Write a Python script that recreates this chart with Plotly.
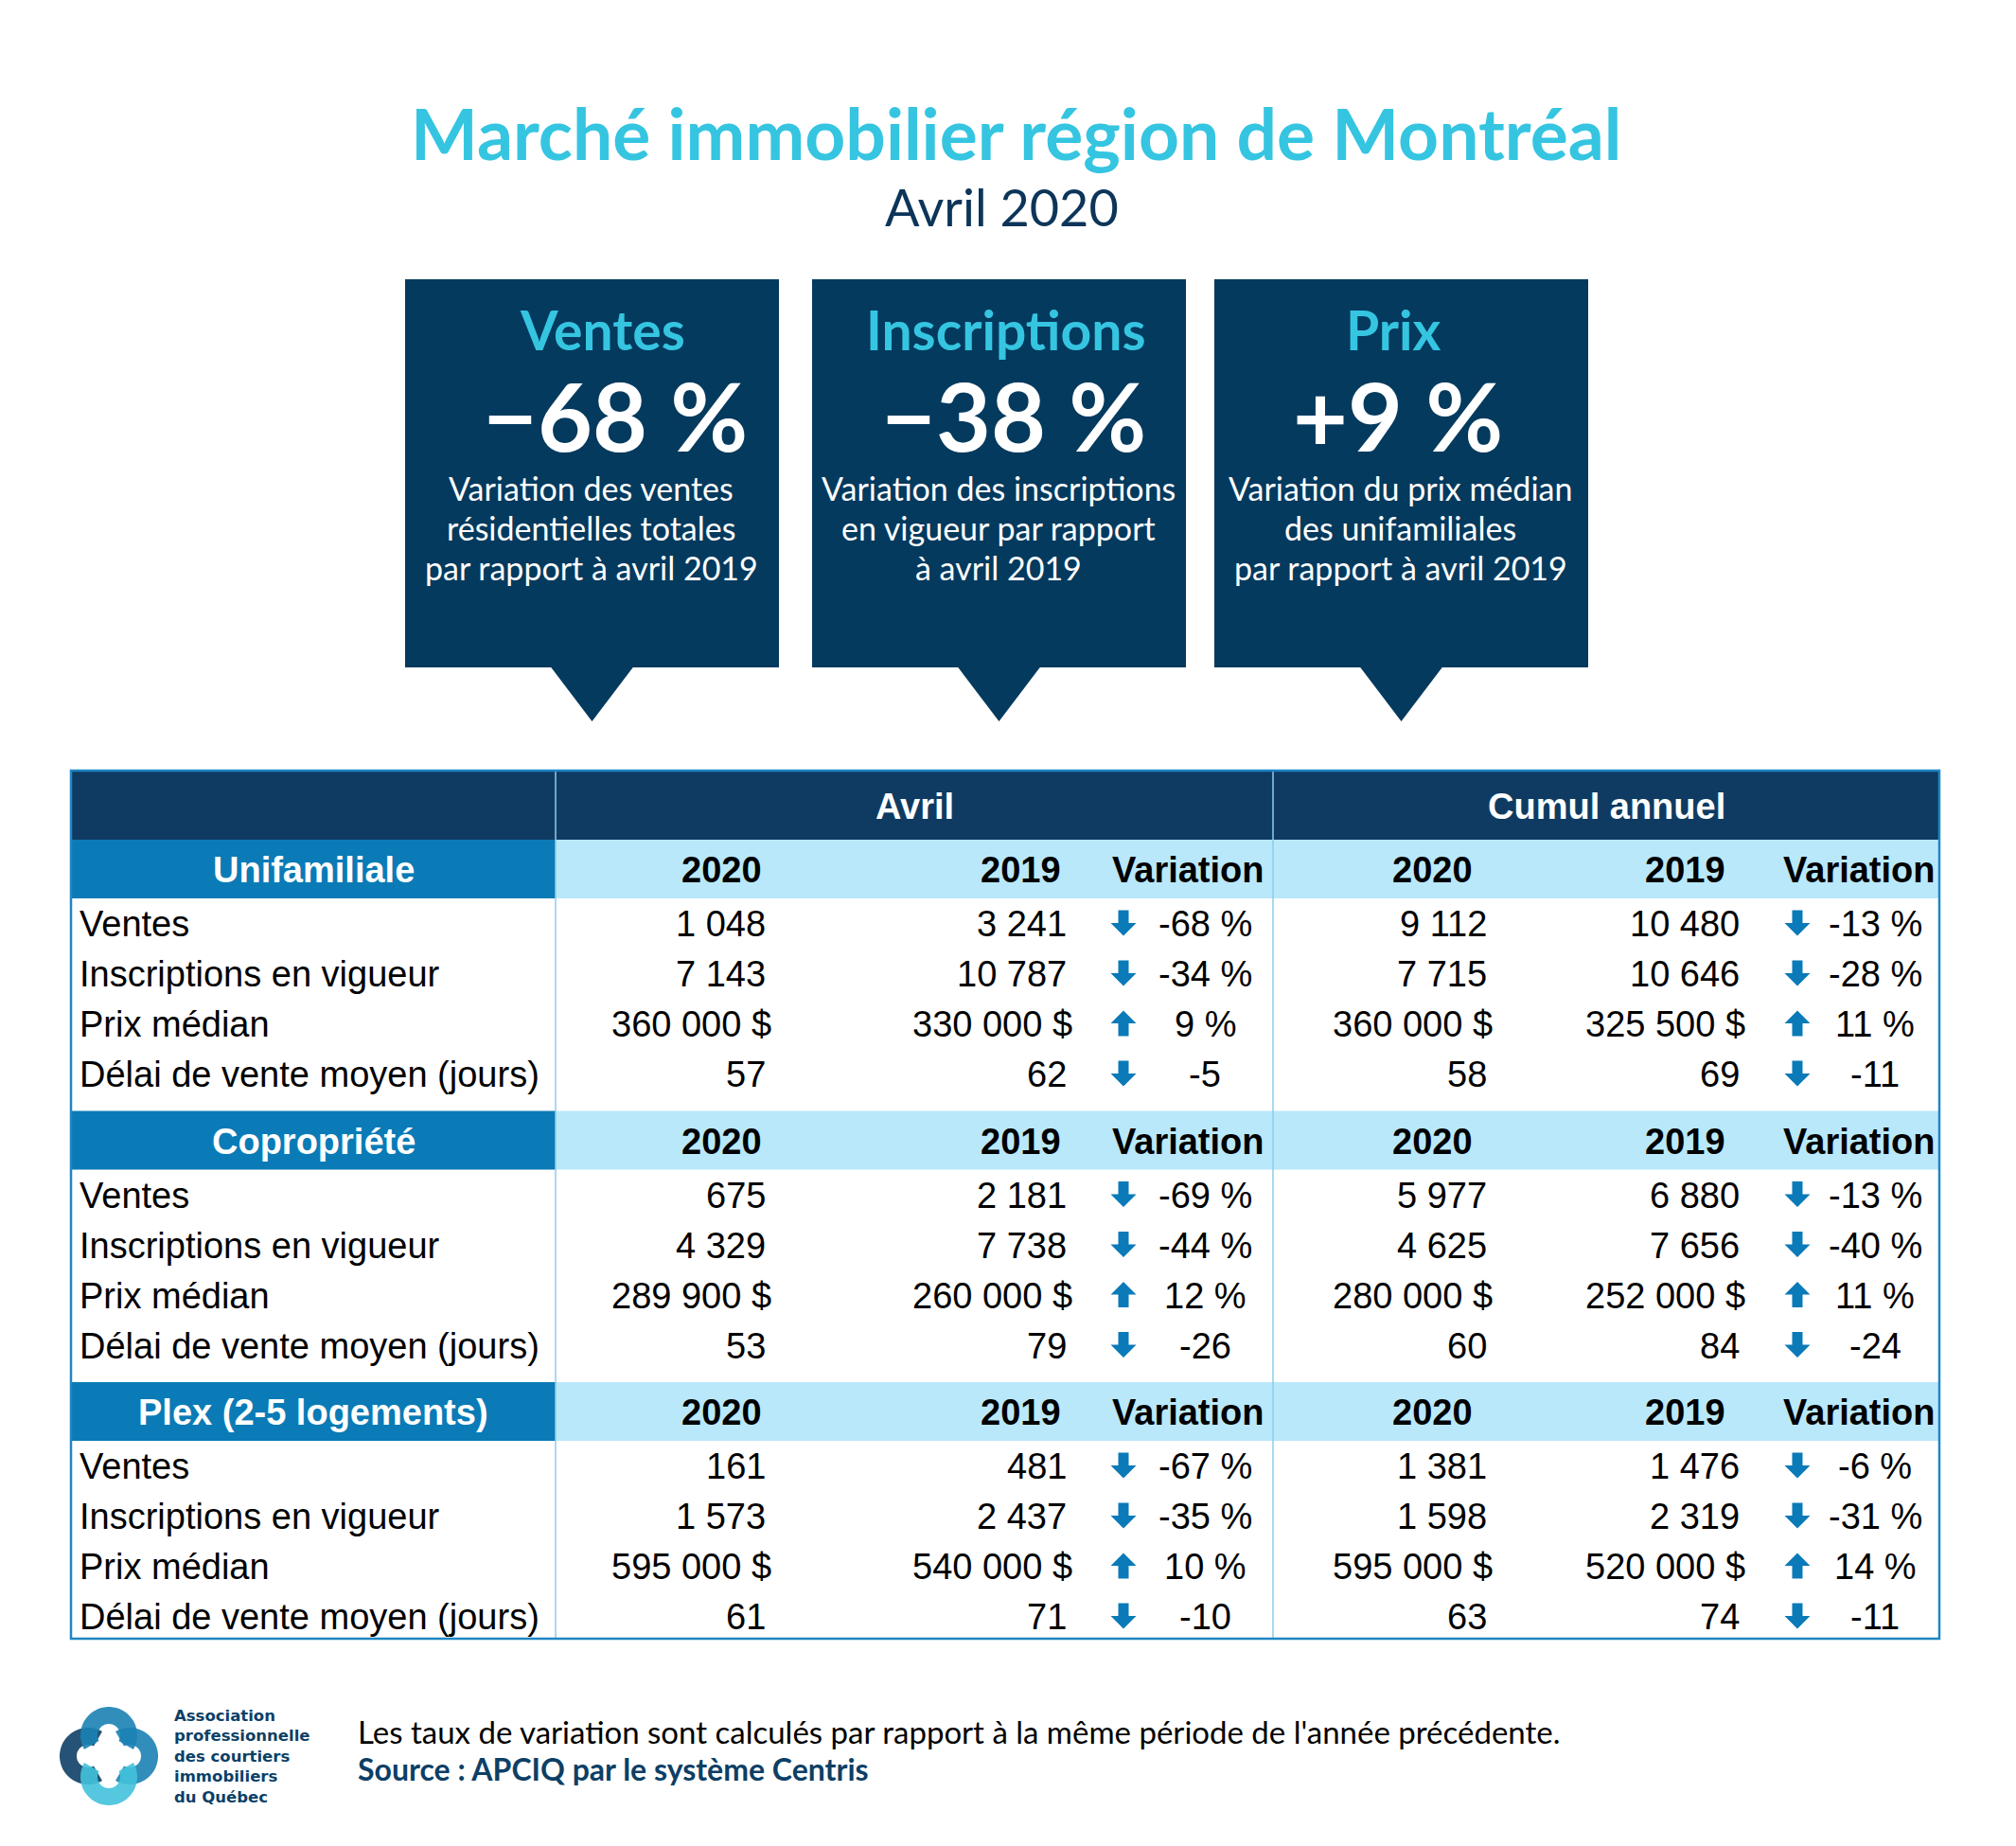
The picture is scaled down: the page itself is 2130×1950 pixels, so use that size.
import numpy as np
import plotly.graph_objects as go

# ---------------- data ----------------
title = "Marché immobilier région de Montréal"
subtitle = "Avril 2020"

kpi_titles = ["Ventes", "Inscriptions", "Prix"]
kpi_values = ["−68 %", "−38 %", "+9 %"]
kpi_desc = [
    ["Variation des ventes", "résidentielles totales", "par rapport à avril 2019"],
    ["Variation des inscriptions", "en vigueur par rapport", "à avril 2019"],
    ["Variation du prix médian", "des unifamiliales", "par rapport à avril 2019"],
]

sections = ["Unifamiliale", "Copropriété", "Plex (2-5 logements)"]
metrics = ["Ventes", "Inscriptions en vigueur", "Prix médian", "Délai de vente moyen (jours)"]
period_labels = ["Avril", "Cumul annuel"]
col_labels = ["2020", "2019", "Variation"]

avril_2020 = [[1048, 7143, 360000, 57], [675, 4329, 289900, 53], [161, 1573, 595000, 61]]
avril_2019 = [[3241, 10787, 330000, 62], [2181, 7738, 260000, 79], [481, 2437, 540000, 71]]
avril_var = [[-68, -34, 9, -5], [-69, -44, 12, -26], [-67, -35, 10, -10]]
cumul_2020 = [[9112, 7715, 360000, 58], [5977, 4625, 280000, 60], [1381, 1598, 595000, 63]]
cumul_2019 = [[10480, 10646, 325500, 69], [6880, 7656, 252000, 84], [1476, 2319, 520000, 74]]
cumul_var = [[-13, -28, 11, -11], [-13, -40, 11, -24], [-6, -31, 14, -11]]

footer_note = "Les taux de variation sont calculés par rapport à la même période de l'année précédente."
footer_source = "Source : APCIQ par le système Centris"
logo_lines = ["Association", "professionnelle", "des courtiers", "immobiliers", "du Québec"]

# ---------------- style ----------------
W, H = 2130, 1950
OFF = 8  # page body margin
CYAN = "#35c5e1"
NAVY = "#043a5e"
NAVY2 = "#0f3b62"
MID = "#0a7bb6"
LIGHT = "#b9e8fb"
ARROW = "#0a7ab8"
TFONT = "Liberation Sans, Arial, sans-serif"
GFONT = "Lato, Noto Sans, sans-serif"
TS = 38

fig = go.Figure()
fig.add_trace(go.Scatter(x=[0, W], y=[0, H], mode="markers", marker=dict(opacity=0), hoverinfo="skip"))

shapes = []
anns = []


def ann(text, x, y, size, color, family=TFONT, xanchor="center", yanchor="middle", align="center"):
    anns.append(dict(text=text, x=x, y=y, xref="x", yref="y", showarrow=False,
                     xanchor=xanchor, yanchor=yanchor, align=align,
                     font=dict(size=size, color=color, family=family)))


def rect(x0, y0, x1, y1, fill, line=None, lw=0):
    shapes.append(dict(type="rect", xref="x", yref="y", x0=x0, y0=y0, x1=x1, y1=y1,
                       fillcolor=fill, line=dict(color=line or fill, width=lw), layer="below"))


def fmt_num(v, money=False):
    s = f"{v:,}".replace(",", "\u00a0")
    return s + "\u00a0$" if money else s


def fmt_var(v, pct=True):
    return f"{v}\u00a0%" if pct else f"{v}"


# ---------------- title ----------------
ann(f"<b>{title}</b>", 1073, 140, 75, CYAN, GFONT)
ann(subtitle, 1058, 218, 54, "#0c3559", GFONT)

# ---------------- KPI boxes ----------------
box_x = [(428, 823), (858, 1253), (1283, 1678)]
title_dx = [11, 7, -8]
val_dx = [24, 15, -4]
for i in range(3):
    x0, x1 = box_x[i]
    cx = (x0 + x1) / 2
    rect(x0, 295, x1, 705, NAVY)
    shapes.append(dict(type="path", xref="x", yref="y",
                       path=f"M {cx-44},704 L {cx+44},704 L {cx},762 Z",
                       fillcolor=NAVY, line=dict(width=0), layer="below"))
    ann(f"<b>{kpi_titles[i]}</b>", cx + title_dx[i], 348, 57, CYAN, GFONT)
    ann(f"<b>{kpi_values[i]}</b>", cx + val_dx[i], 438, 100, "white", GFONT)
    for j, line in enumerate(kpi_desc[i]):
        ann(line, cx - 1, 515 + 42 * j, 34, "white", GFONT)

# ---------------- table ----------------
TL, TR, TT, TB = 75, 2049, 814, 1731
C1, C2 = 587, 1345
rect(TL, TT, TR, 887, NAVY2)
ann(f"<b>{period_labels[0]}</b>", (C1 + C2) / 2, 852, TS, "white")
ann(f"<b>{period_labels[1]}</b>", (C2 + TR) / 2, 852, TS, "white")

val_right = [811, 1129, 1573, 1840]
var_center = [1273, 1981]
arrow_x = [1187, 1899]
hdr_x = [[762, 1078, 1255], [1513, 1780, 1964]]

period_data = [(avril_2020, avril_2019, avril_var), (cumul_2020, cumul_2019, cumul_var)]

for s, sec in enumerate(sections):
    top = 887 + s * 286.5
    hb = top + 62
    rect(TL, top, C1, hb, MID)
    rect(C1, top, TR, hb, LIGHT)
    ann(f"<b>{sec}</b>", (TL + C1) / 2, top + 32, TS, "white")
    for p in range(2):
        for k, lab in enumerate(col_labels):
            ann(f"<b>{lab}</b>", hdr_x[p][k], top + 32, TS, "black")
    for m, met in enumerate(metrics):
        y = hb + 27 + 53 * m
        ann(met, 82, y, TS, "black", xanchor="left")
        money = (m == 2)
        for p in range(2):
            d20, d19, dv = period_data[p]
            ann(fmt_num(d20[s][m], money), val_right[2 * p] + (6 if money else 0), y, TS, "black", xanchor="right")
            ann(fmt_num(d19[s][m], money), val_right[2 * p + 1] + (6 if money else 0), y, TS, "black", xanchor="right")
            v = dv[s][m]
            ann(fmt_var(v, m != 3), var_center[p], y, TS, "black")
            ax = arrow_x[p]
            sgn = 1 if v < 0 else -1  # down arrow for decrease (y grows downward)
            ay = y - 1
            yt = ay - sgn * 13.5
            ym = ay
            yb = ay + sgn * 13.5
            path = (f"M {ax-5.5},{yt} L {ax+5.5},{yt} L {ax+5.5},{ym} L {ax+13.5},{ym} "
                    f"L {ax},{yb} L {ax-13.5},{ym} L {ax-5.5},{ym} Z")
            shapes.append(dict(type="path", xref="x", yref="y", path=path,
                               fillcolor=ARROW, line=dict(width=0)))

# grid lines
for xv in (C1, C2):
    shapes.append(dict(type="line", xref="x", yref="y", x0=xv, x1=xv, y0=TT, y1=TB,
                       line=dict(color="#8fcdea", width=1.5)))
shapes.append(dict(type="rect", xref="x", yref="y", x0=TL, x1=TR, y0=TT, y1=TB,
                   line=dict(color="#1f86c4", width=2.5), fillcolor="rgba(0,0,0,0)"))

# ---------------- logo ----------------
def ring_arc(cx, cy, r0, r1, a0, a1, n=40):
    t = np.linspace(np.radians(a0), np.radians(a1), n)
    outer = [(cx + r1 * np.cos(a), cy - r1 * np.sin(a)) for a in t]
    inner = [(cx + r0 * np.cos(a), cy - r0 * np.sin(a)) for a in t[::-1]]
    pts = outer + inner
    return "M " + " L ".join(f"{x:.1f},{y:.1f}" for x, y in pts) + " Z"


LCX, LCY = 115, 1855
logo_parts = [
    (LCX - 22, LCY, 60, 300, "#0d3f66"),     # left navy
    (LCX, LCY - 22, -30, 210, "#1b82b4"),    # top blue
    (LCX + 22, LCY, -120, 120, "#1b82b4"),   # right blue
    (LCX, LCY + 22, 150, 390, "#43c2dc"),    # bottom cyan
]
for cx, cy, a0, a1, col in logo_parts:
    shapes.append(dict(type="path", xref="x", yref="y", path=ring_arc(cx, cy, 12, 30, a0, a1),
                       fillcolor=col, line=dict(width=0), opacity=0.9))

ann("<b>" + "<br>".join(logo_lines) + "</b>", 182, 1855, 16.5, "#0d3f66",
    "DejaVu Sans, sans-serif", xanchor="left", align="left")

ann(footer_note, 376, 1829, 33, "black", GFONT, xanchor="left")
ann(f"<b>{footer_source}</b>", 376, 1868, 32, "#0d3f66", GFONT, xanchor="left")

fig.update_layout(
    width=W, height=H, margin=dict(l=0, r=0, t=0, b=0),
    paper_bgcolor="white", plot_bgcolor="white", showlegend=False,
    xaxis=dict(range=[OFF, W + OFF], visible=False, fixedrange=True),
    yaxis=dict(range=[H + OFF, OFF], visible=False, fixedrange=True),
    shapes=shapes, annotations=anns,
)
fig.write_html("out.html")
